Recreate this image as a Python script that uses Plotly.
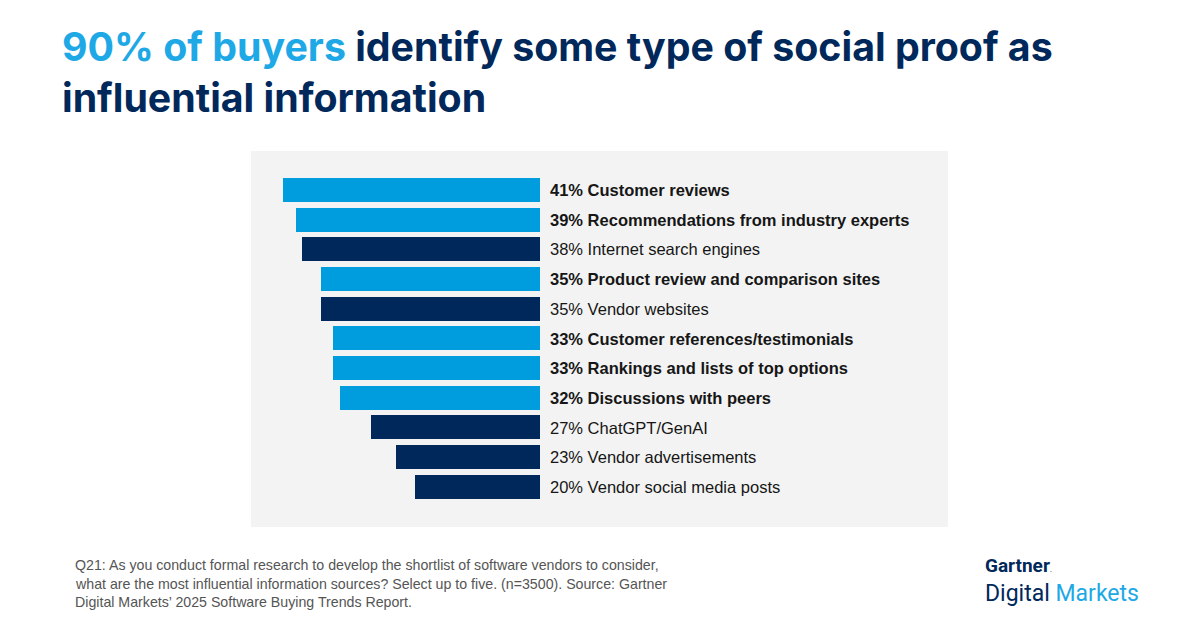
import plotly.graph_objects as go

W, H = 1200, 630

categories = [
    "Customer reviews",
    "Recommendations from industry experts",
    "Internet search engines",
    "Product review and comparison sites",
    "Vendor websites",
    "Customer references/testimonials",
    "Rankings and lists of top options",
    "Discussions with peers",
    "ChatGPT/GenAI",
    "Vendor advertisements",
    "Vendor social media posts",
]
values = [41, 39, 38, 35, 35, 33, 33, 32, 27, 23, 20]
social_proof = [True, True, False, True, False, True, True, True, False, False, False]

LIGHT = "#009DDE"
NAVY = "#00285A"
TITLE_BLUE = "#1EA8E6"

colors = [LIGHT if s else NAVY for s in social_proof]


def px(x):
    return x / W


def py(y):
    return 1 - y / H


fig = go.Figure()
fig.add_trace(go.Bar(
    x=values,
    y=list(range(len(categories))),
    orientation="h",
    marker=dict(color=colors, line=dict(width=0)),
    width=0.81,
    hoverinfo="skip",
    showlegend=False,
))

annotations = []
for i, (c, v, s) in enumerate(zip(categories, values, social_proof)):
    label = f"{v}% {c}"
    if s:
        label = f"<b>{label}</b>"
    annotations.append(dict(
        x=0, y=i, xref="x", yref="y", text=label, showarrow=False,
        xanchor="left", yanchor="middle", xshift=8,
        font=dict(family="Liberation Sans, Arial, sans-serif", size=16.5,
                  color="#161616"),
    ))

# Title
title_font = dict(family="Inter, Roboto, sans-serif", size=39.3, color=NAVY)
annotations.append(dict(
    x=px(60), y=py(47), xref="paper", yref="paper", xanchor="left", yanchor="middle",
    showarrow=False,
    text=f"<b><span style='color:{TITLE_BLUE}'>90% of buyers</span> identify some type of social proof as</b>",
    font=title_font,
))
annotations.append(dict(
    x=px(60), y=py(97), xref="paper", yref="paper", xanchor="left", yanchor="middle",
    showarrow=False,
    text="<b>influential information</b>",
    font=title_font,
))

# Footer
footer_lines = [
    "Q21: As you conduct formal research to develop the shortlist of software vendors to consider,",
    "what are the most influential information sources? Select up to five. (n=3500). Source: Gartner",
    "Digital Markets’ 2025 Software Buying Trends Report.",
]
for k, line in enumerate(footer_lines):
    annotations.append(dict(
        x=px(73), y=py(565 + k * 18.5), xref="paper", yref="paper",
        xanchor="left", yanchor="middle", showarrow=False, text=line,
        font=dict(family="Liberation Sans, Arial, sans-serif", size=14.2, color="#555555"),
    ))

# Logo
annotations.append(dict(
    x=px(983), y=py(565), xref="paper", yref="paper", xanchor="left", yanchor="middle",
    showarrow=False, text="<b>Gartner</b><span style='font-size:9px'>.</span>",
    font=dict(family="Roboto, sans-serif", size=19, color=NAVY),
))
annotations.append(dict(
    x=px(983), y=py(593), xref="paper", yref="paper", xanchor="left", yanchor="middle",
    showarrow=False,
    text=f"Digital <span style='color:{TITLE_BLUE}'>Markets</span>",
    font=dict(family="Roboto, sans-serif", size=23, color=NAVY),
))

# Panel background
shapes = [dict(
    type="rect", xref="paper", yref="paper",
    x0=px(251), x1=px(948), y0=py(527), y1=py(151),
    fillcolor="#F3F3F3", line=dict(width=0), layer="below",
)]

zero_px = 540
scale = 6.27  # px per percent
xmax = 45
left_px = zero_px - xmax * scale

fig.update_layout(
    width=W, height=H,
    margin=dict(l=0, r=0, t=0, b=0),
    paper_bgcolor="white",
    plot_bgcolor="rgba(0,0,0,0)",
    xaxis=dict(range=[xmax, 0], domain=[px(left_px), px(zero_px)],
               showgrid=False, zeroline=False, showticklabels=False,
               showline=False, fixedrange=True),
    yaxis=dict(range=[10.5, -0.5], domain=[py(501.85), py(175.15)],
               showgrid=False, zeroline=False, showticklabels=False,
               showline=False, fixedrange=True),
    annotations=annotations,
    shapes=shapes,
    bargap=0,
)

fig.write_html("out.html")
